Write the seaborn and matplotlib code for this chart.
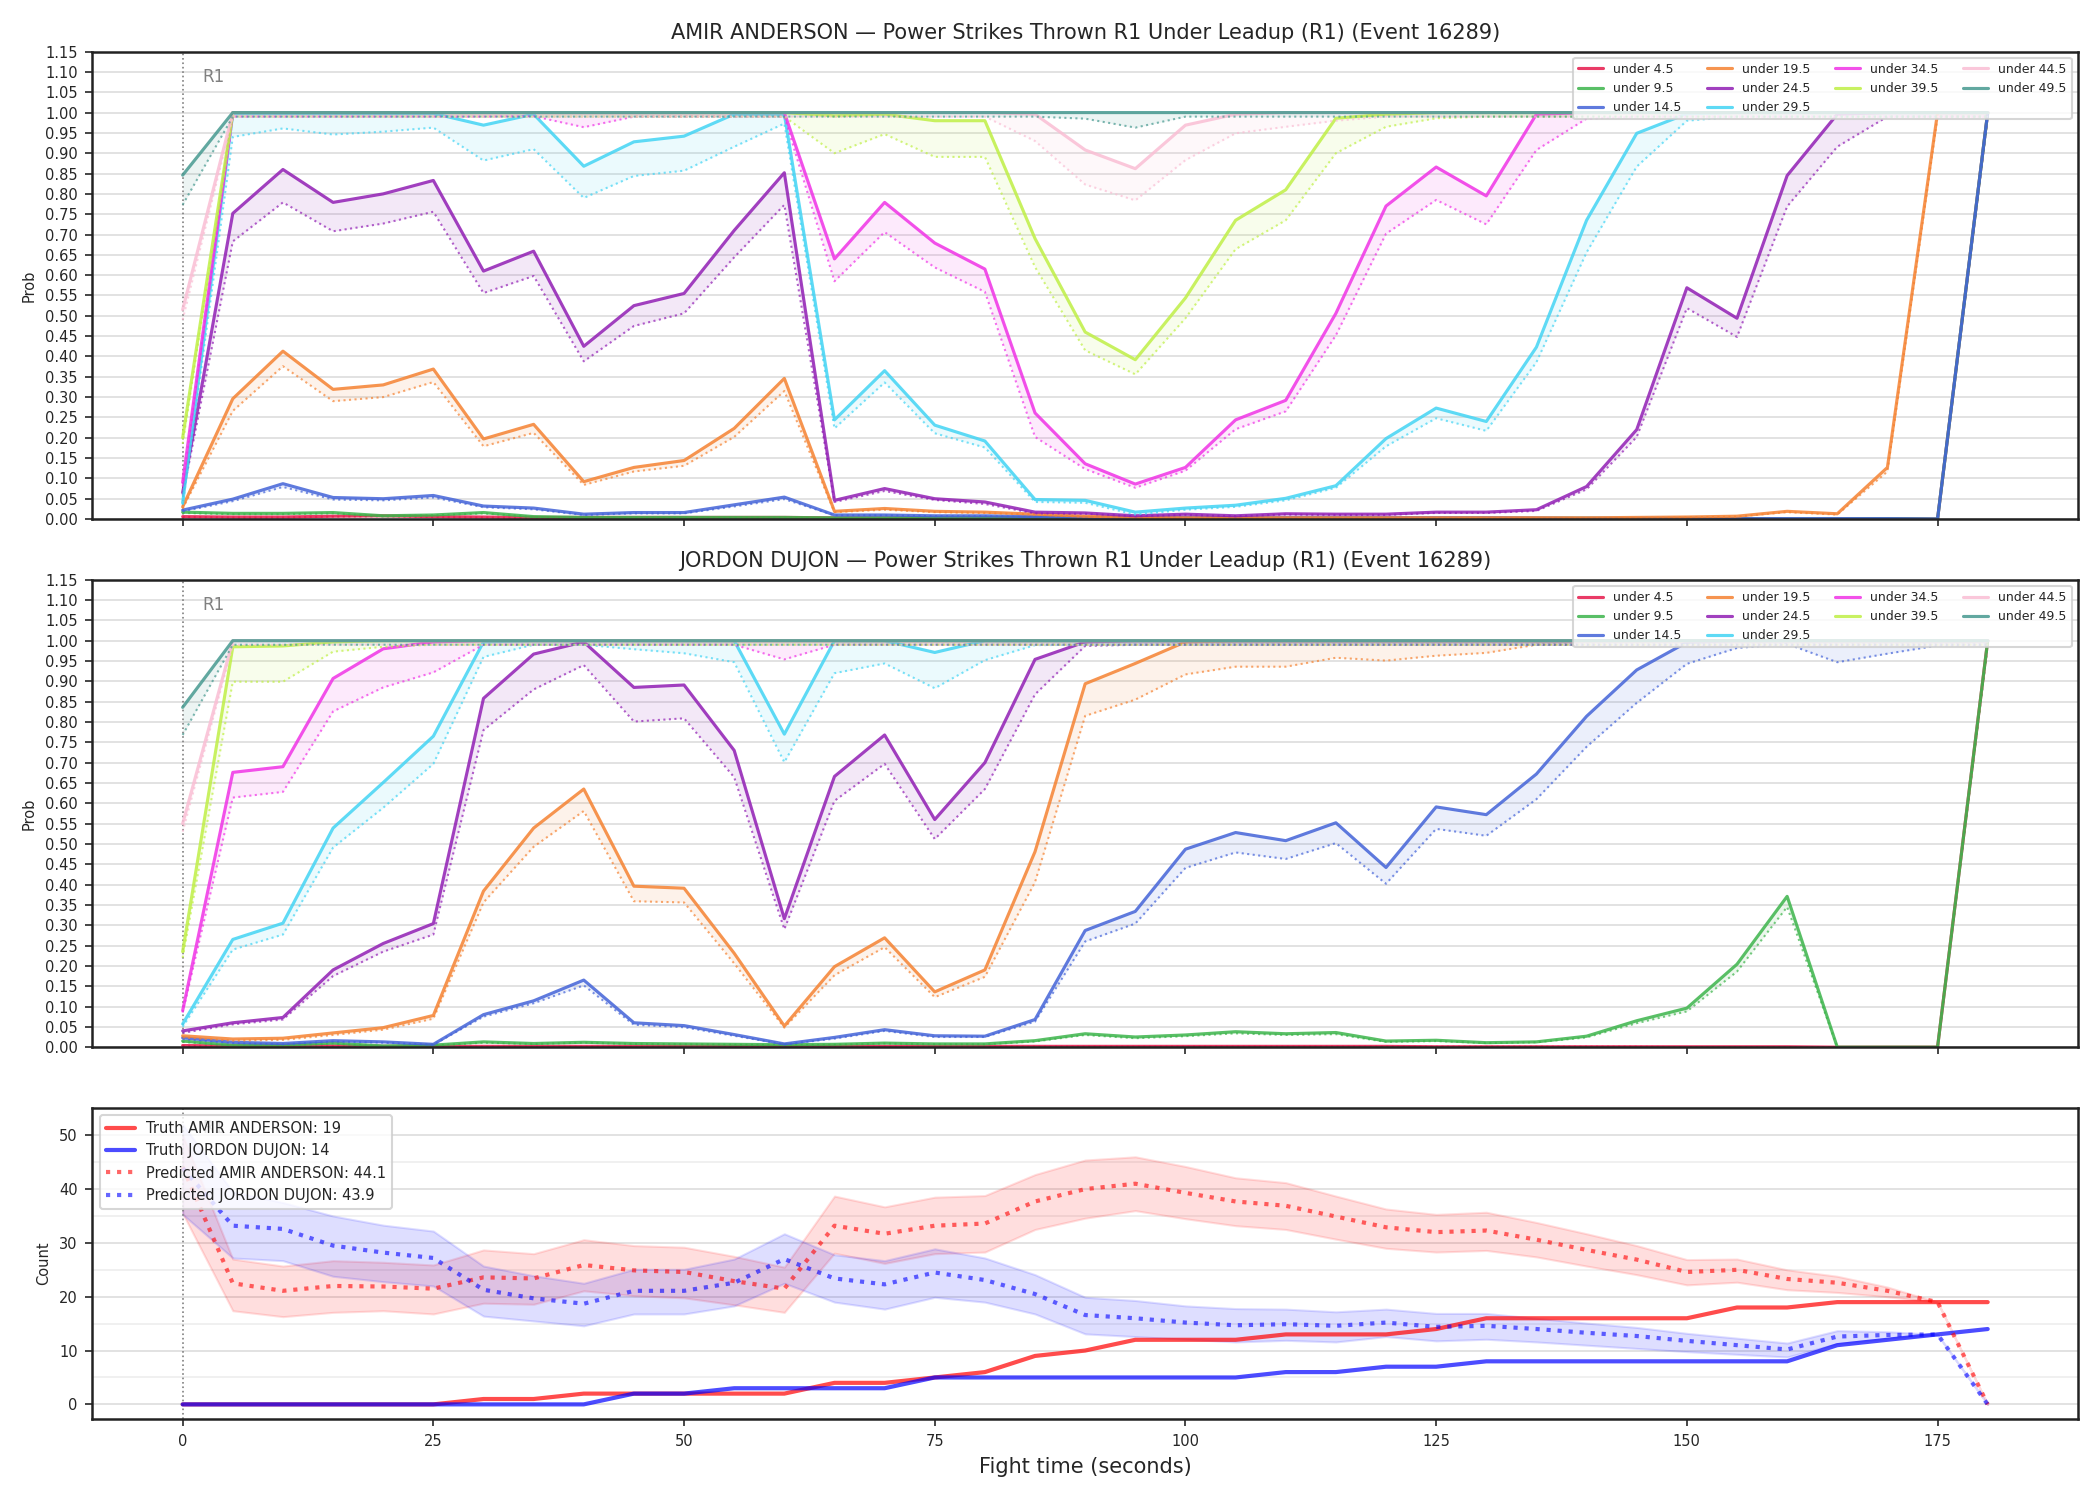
import matplotlib
matplotlib.use("Agg")
import matplotlib.pyplot as plt
import seaborn as sns
from matplotlib.ticker import MultipleLocator, FormatStrFormatter

# ---- data -------------------------------------------------------------
TIME = [0, 5, 10, 15, 20, 25, 30, 35, 40, 45, 50, 55, 60, 65, 70, 75, 80, 85, 90,
        95, 100, 105, 110, 115, 120, 125, 130, 135, 140, 145, 150, 155, 160, 165, 170, 175, 180]

THRESHOLDS = ["under 4.5", "under 9.5", "under 14.5", "under 19.5", "under 24.5",
              "under 29.5", "under 34.5", "under 39.5", "under 44.5", "under 49.5"]
COLORS = ["#e6194B", "#3cb44b", "#4363d8", "#f58231", "#911eb4",
          "#42d4f4", "#f032e6", "#bfef45", "#fabed4", "#469990"]

# AMIR ANDERSON: P(under X) and its lower band
A_U4 = [0.006, 0.005, 0.005, 0.007, 0.008, 0.006, 0.005, 0.004, 0.004, 0.004,
        0.004, 0.004, 0.004, 0.003, 0.003, 0.003, 0.003, 0.003, 0.002, 0.002,
        0.002, 0.002, 0.002, 0.002, 0.002, 0.002, 0.002, 0.002, 0.001, 0.001,
        0.001, 0.001, 0.001, 0.001, 0.001, 0.000, 1.000]
A_U4_LO = [0.005, 0.004, 0.004, 0.006, 0.007, 0.005, 0.004, 0.003, 0.003, 0.003,
           0.003, 0.003, 0.003, 0.002, 0.002, 0.002, 0.002, 0.002, 0.002, 0.001,
           0.001, 0.001, 0.001, 0.001, 0.001, 0.001, 0.001, 0.001, 0.001, 0.001,
           0.001, 0.000, 0.000, 0.000, 0.000, 0.000, 0.990]
A_U9 = [0.017, 0.014, 0.014, 0.016, 0.008, 0.010, 0.016, 0.006, 0.004, 0.004,
        0.004, 0.004, 0.004, 0.003, 0.003, 0.003, 0.003, 0.003, 0.003, 0.002,
        0.002, 0.002, 0.002, 0.002, 0.002, 0.002, 0.002, 0.002, 0.002, 0.001,
        0.001, 0.001, 0.001, 0.001, 0.001, 0.000, 1.000]
A_U9_LO = [0.015, 0.012, 0.012, 0.014, 0.007, 0.009, 0.014, 0.005, 0.003, 0.003,
           0.003, 0.003, 0.003, 0.002, 0.002, 0.002, 0.002, 0.002, 0.002, 0.001,
           0.001, 0.001, 0.001, 0.001, 0.001, 0.001, 0.001, 0.001, 0.001, 0.001,
           0.001, 0.000, 0.000, 0.000, 0.000, 0.000, 0.990]
A_U14 = [0.022, 0.049, 0.087, 0.053, 0.050, 0.058, 0.032, 0.027, 0.012, 0.016,
         0.016, 0.035, 0.054, 0.010, 0.010, 0.008, 0.008, 0.006, 0.004, 0.004,
         0.004, 0.003, 0.003, 0.003, 0.003, 0.003, 0.003, 0.002, 0.002, 0.002,
         0.002, 0.001, 0.001, 0.001, 0.001, 0.000, 1.000]
A_U14_LO = [0.019, 0.044, 0.079, 0.048, 0.046, 0.053, 0.029, 0.024, 0.010, 0.014,
            0.014, 0.031, 0.049, 0.009, 0.009, 0.007, 0.007, 0.005, 0.004, 0.003,
            0.003, 0.003, 0.003, 0.002, 0.002, 0.002, 0.002, 0.002, 0.002, 0.001,
            0.001, 0.001, 0.001, 0.001, 0.000, 0.000, 0.990]
A_U19 = [0.030, 0.296, 0.413, 0.319, 0.330, 0.369, 0.197, 0.233, 0.092, 0.127,
         0.144, 0.223, 0.346, 0.019, 0.026, 0.019, 0.017, 0.012, 0.007, 0.004,
         0.003, 0.003, 0.003, 0.003, 0.003, 0.003, 0.003, 0.003, 0.003, 0.004,
         0.005, 0.007, 0.019, 0.013, 0.127, 1.000, 1.000]
A_U19_LO = [0.026, 0.266, 0.376, 0.290, 0.300, 0.337, 0.179, 0.212, 0.084, 0.117,
            0.131, 0.202, 0.315, 0.017, 0.023, 0.017, 0.015, 0.011, 0.006, 0.003,
            0.002, 0.002, 0.002, 0.002, 0.002, 0.002, 0.002, 0.002, 0.002, 0.003,
            0.004, 0.006, 0.017, 0.011, 0.117, 0.990, 0.990]
A_U24 = [0.065, 0.752, 0.860, 0.779, 0.800, 0.833, 0.610, 0.659, 0.425, 0.525,
         0.555, 0.710, 0.852, 0.046, 0.075, 0.050, 0.042, 0.017, 0.015, 0.008,
         0.012, 0.008, 0.013, 0.012, 0.012, 0.017, 0.017, 0.023, 0.080, 0.220,
         0.569, 0.494, 0.845, 0.996, 1.000, 1.000, 1.000]
A_U24_LO = [0.058, 0.683, 0.779, 0.708, 0.727, 0.756, 0.556, 0.598, 0.388, 0.475,
            0.506, 0.644, 0.773, 0.042, 0.069, 0.047, 0.037, 0.014, 0.013, 0.007,
            0.010, 0.007, 0.011, 0.010, 0.010, 0.015, 0.015, 0.020, 0.073, 0.202,
            0.519, 0.448, 0.769, 0.916, 0.990, 0.990, 0.990]
A_U29 = [0.040, 0.998, 0.998, 0.998, 0.998, 0.998, 0.969, 0.996, 0.868, 0.928,
         0.942, 0.996, 0.996, 0.244, 0.365, 0.231, 0.192, 0.048, 0.046, 0.017,
         0.027, 0.034, 0.051, 0.082, 0.198, 0.273, 0.240, 0.423, 0.735, 0.949,
         0.997, 1.000, 1.000, 1.000, 1.000, 1.000, 1.000]
A_U29_LO = [0.035, 0.940, 0.961, 0.946, 0.953, 0.963, 0.882, 0.910, 0.790, 0.844,
            0.857, 0.916, 0.973, 0.223, 0.336, 0.211, 0.176, 0.042, 0.040, 0.011,
            0.023, 0.030, 0.046, 0.077, 0.179, 0.248, 0.217, 0.386, 0.656, 0.867,
            0.980, 0.990, 0.990, 0.990, 0.990, 0.990, 0.990]
A_U34 = [0.090, 1.000, 1.000, 1.000, 1.000, 1.000, 1.000, 1.000, 1.000, 1.000,
         1.000, 1.000, 1.000, 0.640, 0.779, 0.679, 0.615, 0.261, 0.136, 0.086,
         0.127, 0.244, 0.292, 0.506, 0.770, 0.866, 0.795, 0.996, 1.000, 1.000,
         1.000, 1.000, 1.000, 1.000, 1.000, 1.000, 1.000]
A_U34_LO = [0.080, 0.990, 0.990, 0.990, 0.990, 0.990, 0.990, 0.991, 0.964, 0.990,
            0.990, 0.990, 0.990, 0.585, 0.706, 0.619, 0.559, 0.202, 0.123, 0.077,
            0.119, 0.221, 0.265, 0.452, 0.702, 0.785, 0.725, 0.908, 0.985, 0.990,
            0.990, 0.990, 0.990, 0.990, 0.990, 0.990, 0.990]
A_U39 = [0.200, 1.000, 1.000, 1.000, 1.000, 1.000, 1.000, 1.000, 1.000, 1.000,
         1.000, 1.000, 1.000, 0.992, 0.996, 0.980, 0.980, 0.690, 0.460, 0.392,
         0.544, 0.735, 0.810, 0.986, 0.996, 1.000, 1.000, 1.000, 1.000, 1.000,
         1.000, 1.000, 1.000, 1.000, 1.000, 1.000, 1.000]
A_U39_LO = [0.185, 0.990, 0.990, 0.990, 0.990, 0.990, 0.990, 0.990, 0.990, 0.990,
            0.990, 0.990, 0.990, 0.900, 0.947, 0.891, 0.891, 0.620, 0.415, 0.356,
            0.494, 0.664, 0.735, 0.900, 0.965, 0.986, 0.990, 0.990, 0.990, 0.990,
            0.990, 0.990, 0.990, 0.990, 0.990, 0.990, 0.990]
A_U44 = [0.515, 1.000, 1.000, 1.000, 1.000, 1.000, 1.000, 1.000, 1.000, 1.000,
         1.000, 1.000, 1.000, 1.000, 1.000, 1.000, 1.000, 0.996, 0.908, 0.862,
         0.969, 0.996, 1.000, 1.000, 1.000, 1.000, 1.000, 1.000, 1.000, 1.000,
         1.000, 1.000, 1.000, 1.000, 1.000, 1.000, 1.000]
A_U44_LO = [0.490, 0.990, 0.990, 0.990, 0.990, 0.990, 0.990, 0.990, 0.990, 0.990,
            0.990, 0.990, 0.990, 0.990, 0.990, 0.990, 0.990, 0.930, 0.823, 0.784,
            0.883, 0.949, 0.965, 0.980, 0.990, 0.990, 0.990, 0.990, 0.990, 0.990,
            0.990, 0.990, 0.990, 0.990, 0.990, 0.990, 0.990]
A_U49 = [0.846, 1.000, 1.000, 1.000, 1.000, 1.000, 1.000, 1.000, 1.000, 1.000,
         1.000, 1.000, 1.000, 1.000, 1.000, 1.000, 1.000, 1.000, 1.000, 1.000,
         1.000, 1.000, 1.000, 1.000, 1.000, 1.000, 1.000, 1.000, 1.000, 1.000,
         1.000, 1.000, 1.000, 1.000, 1.000, 1.000, 1.000]
A_U49_LO = [0.773, 0.990, 0.990, 0.990, 0.990, 0.990, 0.990, 0.990, 0.990, 0.990,
            0.990, 0.990, 0.990, 0.990, 0.990, 0.990, 0.990, 0.990, 0.985, 0.963,
            0.990, 0.990, 0.990, 0.990, 0.990, 0.990, 0.990, 0.990, 0.990, 0.990,
            0.990, 0.990, 0.990, 0.990, 0.990, 0.990, 0.990]

# JORDON DUJON: P(under X) and its lower band
J_U4 = [0.004, 0.003, 0.003, 0.003, 0.002, 0.002, 0.002, 0.002, 0.002, 0.002,
        0.002, 0.002, 0.002, 0.002, 0.002, 0.002, 0.002, 0.002, 0.002, 0.002,
        0.002, 0.002, 0.002, 0.002, 0.002, 0.001, 0.001, 0.001, 0.001, 0.001,
        0.001, 0.001, 0.001, 0.000, 0.000, 0.000, 1.000]
J_U4_LO = [0.003, 0.002, 0.002, 0.002, 0.001, 0.001, 0.001, 0.001, 0.001, 0.001,
           0.001, 0.001, 0.001, 0.001, 0.001, 0.001, 0.001, 0.001, 0.001, 0.001,
           0.001, 0.001, 0.001, 0.001, 0.001, 0.001, 0.001, 0.001, 0.001, 0.001,
           0.000, 0.000, 0.000, 0.000, 0.000, 0.000, 0.990]
J_U9 = [0.015, 0.005, 0.005, 0.010, 0.003, 0.005, 0.013, 0.009, 0.012, 0.009,
        0.008, 0.007, 0.006, 0.007, 0.010, 0.008, 0.008, 0.016, 0.033, 0.025,
        0.030, 0.038, 0.033, 0.036, 0.015, 0.017, 0.011, 0.013, 0.027, 0.065,
        0.096, 0.204, 0.371, 0.000, 0.000, 0.000, 1.000]
J_U9_LO = [0.013, 0.004, 0.004, 0.009, 0.002, 0.004, 0.011, 0.008, 0.011, 0.008,
           0.007, 0.006, 0.005, 0.006, 0.009, 0.007, 0.007, 0.014, 0.030, 0.022,
           0.027, 0.034, 0.030, 0.032, 0.013, 0.015, 0.010, 0.012, 0.024, 0.059,
           0.088, 0.186, 0.345, 0.000, 0.000, 0.000, 0.990]
J_U14 = [0.023, 0.012, 0.009, 0.016, 0.013, 0.007, 0.080, 0.114, 0.165, 0.060,
         0.053, 0.031, 0.008, 0.024, 0.043, 0.028, 0.027, 0.068, 0.287, 0.334,
         0.487, 0.528, 0.508, 0.552, 0.442, 0.591, 0.572, 0.672, 0.814, 0.928,
         0.996, 1.000, 1.000, 1.000, 1.000, 1.000, 1.000]
J_U14_LO = [0.020, 0.010, 0.007, 0.014, 0.011, 0.006, 0.075, 0.108, 0.152, 0.055,
            0.049, 0.028, 0.007, 0.021, 0.040, 0.025, 0.025, 0.063, 0.260, 0.304,
            0.441, 0.479, 0.463, 0.502, 0.402, 0.537, 0.520, 0.610, 0.739, 0.847,
            0.943, 0.982, 0.992, 0.947, 0.968, 0.988, 0.990]
J_U19 = [0.028, 0.020, 0.022, 0.035, 0.048, 0.078, 0.384, 0.539, 0.635, 0.396,
         0.391, 0.231, 0.052, 0.198, 0.269, 0.136, 0.190, 0.481, 0.894, 0.944,
         0.997, 1.000, 1.000, 1.000, 1.000, 1.000, 1.000, 1.000, 1.000, 1.000,
         1.000, 1.000, 1.000, 1.000, 1.000, 1.000, 1.000]
J_U19_LO = [0.024, 0.016, 0.018, 0.030, 0.043, 0.070, 0.356, 0.493, 0.581, 0.359,
            0.356, 0.206, 0.048, 0.177, 0.246, 0.123, 0.173, 0.406, 0.815, 0.855,
            0.917, 0.936, 0.936, 0.958, 0.951, 0.963, 0.970, 0.990, 0.990, 0.990,
            0.990, 0.990, 0.990, 0.990, 0.990, 0.990, 0.990]
J_U24 = [0.040, 0.060, 0.073, 0.190, 0.255, 0.304, 0.858, 0.967, 0.997, 0.885,
         0.891, 0.730, 0.316, 0.666, 0.768, 0.560, 0.700, 0.954, 0.997, 1.000,
         1.000, 1.000, 1.000, 1.000, 1.000, 1.000, 1.000, 1.000, 1.000, 1.000,
         1.000, 1.000, 1.000, 1.000, 1.000, 1.000, 1.000]
J_U24_LO = [0.035, 0.056, 0.068, 0.175, 0.235, 0.277, 0.780, 0.880, 0.940, 0.801,
            0.809, 0.664, 0.290, 0.606, 0.697, 0.512, 0.635, 0.868, 0.987, 0.990,
            0.990, 0.990, 0.990, 0.990, 0.990, 0.990, 0.990, 0.990, 0.990, 0.990,
            0.990, 0.990, 0.990, 0.990, 0.990, 0.990, 0.990]
J_U29 = [0.057, 0.265, 0.305, 0.539, 0.651, 0.765, 0.997, 1.000, 1.000, 1.000,
         1.000, 1.000, 0.770, 1.000, 1.000, 0.971, 1.000, 1.000, 1.000, 1.000,
         1.000, 1.000, 1.000, 1.000, 1.000, 1.000, 1.000, 1.000, 1.000, 1.000,
         1.000, 1.000, 1.000, 1.000, 1.000, 1.000, 1.000]
J_U29_LO = [0.050, 0.240, 0.277, 0.491, 0.589, 0.697, 0.960, 0.990, 0.990, 0.979,
            0.969, 0.947, 0.701, 0.920, 0.944, 0.883, 0.952, 0.989, 0.990, 0.990,
            0.990, 0.990, 0.990, 0.990, 0.990, 0.990, 0.990, 0.990, 0.990, 0.990,
            0.990, 0.990, 0.990, 0.990, 0.990, 0.990, 0.990]
J_U34 = [0.090, 0.676, 0.690, 0.907, 0.980, 0.997, 1.000, 1.000, 1.000, 1.000,
         1.000, 1.000, 1.000, 1.000, 1.000, 1.000, 1.000, 1.000, 1.000, 1.000,
         1.000, 1.000, 1.000, 1.000, 1.000, 1.000, 1.000, 1.000, 1.000, 1.000,
         1.000, 1.000, 1.000, 1.000, 1.000, 1.000, 1.000]
J_U34_LO = [0.085, 0.614, 0.628, 0.826, 0.885, 0.922, 0.990, 0.990, 0.990, 0.990,
            0.990, 0.990, 0.954, 0.990, 0.990, 0.990, 0.990, 0.990, 0.990, 0.990,
            0.990, 0.990, 0.990, 0.990, 0.990, 0.990, 0.990, 0.990, 0.990, 0.990,
            0.990, 0.990, 0.990, 0.990, 0.990, 0.990, 0.990]
J_U39 = [0.235, 0.985, 0.987, 0.997, 1.000, 1.000, 1.000, 1.000, 1.000, 1.000,
         1.000, 1.000, 1.000, 1.000, 1.000, 1.000, 1.000, 1.000, 1.000, 1.000,
         1.000, 1.000, 1.000, 1.000, 1.000, 1.000, 1.000, 1.000, 1.000, 1.000,
         1.000, 1.000, 1.000, 1.000, 1.000, 1.000, 1.000]
J_U39_LO = [0.220, 0.899, 0.899, 0.973, 0.985, 0.990, 0.990, 0.990, 0.990, 0.990,
            0.990, 0.990, 0.990, 0.990, 0.990, 0.990, 0.990, 0.990, 0.990, 0.990,
            0.990, 0.990, 0.990, 0.990, 0.990, 0.990, 0.990, 0.990, 0.990, 0.990,
            0.990, 0.990, 0.990, 0.990, 0.990, 0.990, 0.990]
J_U44 = [0.550, 1.000, 1.000, 1.000, 1.000, 1.000, 1.000, 1.000, 1.000, 1.000,
         1.000, 1.000, 1.000, 1.000, 1.000, 1.000, 1.000, 1.000, 1.000, 1.000,
         1.000, 1.000, 1.000, 1.000, 1.000, 1.000, 1.000, 1.000, 1.000, 1.000,
         1.000, 1.000, 1.000, 1.000, 1.000, 1.000, 1.000]
J_U44_LO = [0.530, 0.990, 0.990, 0.990, 0.990, 0.990, 0.990, 0.990, 0.990, 0.990,
            0.990, 0.990, 0.990, 0.990, 0.990, 0.990, 0.990, 0.990, 0.990, 0.990,
            0.990, 0.990, 0.990, 0.990, 0.990, 0.990, 0.990, 0.990, 0.990, 0.990,
            0.990, 0.990, 0.990, 0.990, 0.990, 0.990, 0.990]
J_U49 = [0.836, 1.000, 1.000, 1.000, 1.000, 1.000, 1.000, 1.000, 1.000, 1.000,
         1.000, 1.000, 1.000, 1.000, 1.000, 1.000, 1.000, 1.000, 1.000, 1.000,
         1.000, 1.000, 1.000, 1.000, 1.000, 1.000, 1.000, 1.000, 1.000, 1.000,
         1.000, 1.000, 1.000, 1.000, 1.000, 1.000, 1.000]
J_U49_LO = [0.768, 0.990, 0.990, 0.990, 0.990, 0.990, 0.990, 0.990, 0.990, 0.990,
            0.990, 0.990, 0.990, 0.990, 0.990, 0.990, 0.990, 0.990, 0.990, 0.990,
            0.990, 0.990, 0.990, 0.990, 0.990, 0.990, 0.990, 0.990, 0.990, 0.990,
            0.990, 0.990, 0.990, 0.990, 0.990, 0.990, 0.990]

# counts panel
TRUTH_AMIR = [0, 0, 0, 0, 0, 0, 1, 1, 2, 2, 2, 2, 2, 4, 4, 5, 6, 9, 10,
              12, 12, 12, 13, 13, 13, 14, 16, 16, 16, 16, 16, 18, 18, 19, 19, 19, 19]
TRUTH_JORDON = [0, 0, 0, 0, 0, 0, 0, 0, 0, 2, 2, 3, 3, 3, 3, 5, 5, 5, 5,
                5, 5, 5, 6, 6, 7, 7, 8, 8, 8, 8, 8, 8, 8, 11, 12, 13, 14]
PRED_AMIR = [44.1, 22.5, 21.1, 22.0, 21.9, 21.5, 23.6, 23.4, 25.9, 24.9,
             24.6, 22.9, 21.5, 33.2, 31.7, 33.2, 33.6, 37.7, 40.0, 41.0,
             39.3, 37.7, 36.9, 34.9, 32.9, 32.0, 32.3, 30.6, 28.7, 26.9,
             24.6, 25.0, 23.3, 22.6, 21.1, 19.0, 0.0]
PRED_AMIR_HI = [50.0, 27.0, 25.7, 26.7, 26.4, 25.9, 28.7, 28.0, 30.6, 29.5,
                29.2, 27.5, 25.5, 38.7, 36.7, 38.5, 38.8, 42.7, 45.4, 46.0,
                44.2, 42.1, 41.2, 38.7, 36.3, 35.3, 35.7, 33.8, 31.7, 29.5,
                26.9, 27.0, 25.0, 23.8, 21.8, 19.0, 0.0]
PRED_AMIR_LO = [35.5, 17.4, 16.3, 17.1, 17.4, 16.8, 18.8, 18.6, 21.1, 20.2,
                19.8, 18.5, 17.1, 28.1, 26.2, 28.0, 28.3, 32.5, 34.6, 36.0,
                34.5, 33.2, 32.5, 30.7, 29.0, 28.3, 28.6, 27.4, 25.7, 24.1,
                22.2, 22.7, 21.3, 20.8, 20.0, 19.0, 0.0]
PRED_JORDON = [43.9, 33.2, 32.6, 29.5, 28.2, 27.2, 21.3, 19.7, 18.7, 21.1,
               21.1, 22.6, 27.0, 23.4, 22.3, 24.5, 23.1, 20.5, 16.6, 16.0,
               15.2, 14.7, 14.9, 14.6, 15.2, 14.4, 14.6, 14.0, 13.3, 12.7,
               11.8, 11.0, 10.2, 12.6, 12.9, 13.0, 0.0]
PRED_JORDON_HI = [52.0, 39.5, 37.5, 35.0, 33.3, 32.2, 25.7, 23.9, 22.5, 25.1,
                  25.1, 27.0, 31.7, 27.8, 26.7, 28.9, 27.2, 24.1, 19.9, 19.3,
                  18.3, 17.8, 17.7, 17.2, 17.7, 16.9, 16.9, 16.0, 15.1, 14.3,
                  13.2, 12.3, 11.4, 13.7, 13.5, 13.0, 0.0]
PRED_JORDON_LO = [35.3, 27.2, 26.7, 23.8, 22.8, 22.0, 16.4, 15.5, 14.6, 16.8,
                  16.8, 18.3, 22.5, 19.0, 17.7, 19.9, 19.0, 16.8, 13.1, 12.6,
                  12.1, 11.6, 11.9, 11.6, 12.6, 11.8, 12.1, 11.6, 11.0, 10.4,
                  9.8, 9.3, 8.8, 11.3, 12.3, 12.9, 0.0]

AMIR_PROBS = [A_U4, A_U9, A_U14, A_U19, A_U24, A_U29, A_U34, A_U39, A_U44, A_U49]
AMIR_LOWS = [A_U4_LO, A_U9_LO, A_U14_LO, A_U19_LO, A_U24_LO,
             A_U29_LO, A_U34_LO, A_U39_LO, A_U44_LO, A_U49_LO]
JORDON_PROBS = [J_U4, J_U9, J_U14, J_U19, J_U24, J_U29, J_U34, J_U39, J_U44, J_U49]
JORDON_LOWS = [J_U4_LO, J_U9_LO, J_U14_LO, J_U19_LO, J_U24_LO,
               J_U29_LO, J_U34_LO, J_U39_LO, J_U44_LO, J_U49_LO]

EVENT = "Power Strikes Thrown R1 Under Leadup (R1) (Event 16289)"


def mark_round(ax):
    ax.axvline(0, color="gray", linestyle=":", linewidth=0.8, zorder=1)
    ax.text(2, 0.965, "R1", transform=ax.get_xaxis_transform(),
            color="gray", fontsize=8, va="top", ha="left")


def draw_prob_panel(ax, fighter, probs, lows):
    for label, color, p, lo in zip(THRESHOLDS, COLORS, probs, lows):
        ax.fill_between(TIME, lo, p, color=color, alpha=0.1, linewidth=0)
        sns.lineplot(x=TIME, y=lo, ax=ax, color=color, linestyle=":",
                     linewidth=1.0, alpha=0.7)
        sns.lineplot(x=TIME, y=p, ax=ax, color=color, linewidth=1.5,
                     alpha=0.85, label=label)
    mark_round(ax)
    ax.set_ylim(0, 1.15)
    ax.yaxis.set_major_locator(MultipleLocator(0.05))
    ax.yaxis.set_major_formatter(FormatStrFormatter("%.2f"))
    ax.grid(axis="y", color="#dddddd", linewidth=0.8)
    ax.set_axisbelow(True)
    ax.set_ylabel("Prob", fontsize=7)
    ax.set_title(f"{fighter} \u2014 {EVENT}", fontsize=10)
    ax.legend(loc="upper right", ncol=4, fontsize=6, framealpha=0.8)


def draw_count_panel(ax):
    ax.fill_between(TIME, PRED_AMIR_LO, PRED_AMIR_HI, color="red", alpha=0.13)
    ax.fill_between(TIME, PRED_JORDON_LO, PRED_JORDON_HI, color="blue", alpha=0.13)
    sns.lineplot(x=TIME, y=TRUTH_AMIR, ax=ax, color="red", linewidth=2, alpha=0.7,
                 label=f"Truth AMIR ANDERSON: {TRUTH_AMIR[-1]}")
    sns.lineplot(x=TIME, y=TRUTH_JORDON, ax=ax, color="blue", linewidth=2, alpha=0.7,
                 label=f"Truth JORDON DUJON: {TRUTH_JORDON[-1]}")
    sns.lineplot(x=TIME, y=PRED_AMIR, ax=ax, color="red", linewidth=2, alpha=0.6,
                 linestyle=":", label=f"Predicted AMIR ANDERSON: {PRED_AMIR[0]:.1f}")
    sns.lineplot(x=TIME, y=PRED_JORDON, ax=ax, color="blue", linewidth=2, alpha=0.6,
                 linestyle=":", label=f"Predicted JORDON DUJON: {PRED_JORDON[0]:.1f}")
    mark_round(ax)
    ax.set_ylim(-2.8, 55.1)
    ax.yaxis.set_major_locator(MultipleLocator(10))
    ax.yaxis.set_minor_locator(MultipleLocator(5))
    ax.tick_params(axis="y", which="minor", length=0)
    ax.grid(axis="y", which="major", color="#dddddd", linewidth=0.8)
    ax.grid(axis="y", which="minor", color="#eeeeee", linewidth=0.8)
    ax.set_axisbelow(True)
    ax.set_ylabel("Count", fontsize=7)
    ax.set_xlabel("Fight time (seconds)", fontsize=10)
    ax.legend(loc="upper left", fontsize=7, framealpha=0.8)


def run():
    sns.set_style("ticks")
    plt.rcParams["font.family"] = ["DejaVu Sans"]
    plt.rcParams["axes.edgecolor"] = "#222222"
    plt.rcParams["axes.linewidth"] = 1.2

    fig, axes = plt.subplots(3, 1, figsize=(14, 10), dpi=150, sharex=True,
                             gridspec_kw={"height_ratios": [1.5, 1.5, 1]})
    fig.subplots_adjust(left=0.044, right=0.9895, top=0.9656, bottom=0.0537, hspace=0.146)

    draw_prob_panel(axes[0], "AMIR ANDERSON", AMIR_PROBS, AMIR_LOWS)
    draw_prob_panel(axes[1], "JORDON DUJON", JORDON_PROBS, JORDON_LOWS)
    draw_count_panel(axes[2])

    for ax in axes:
        ax.tick_params(labelsize=7)
        ax.xaxis.set_major_locator(MultipleLocator(25))
    axes[2].set_xlim(-9, 189)

    fig.savefig("out.png", dpi=150)


if __name__ == "__main__":
    run()
